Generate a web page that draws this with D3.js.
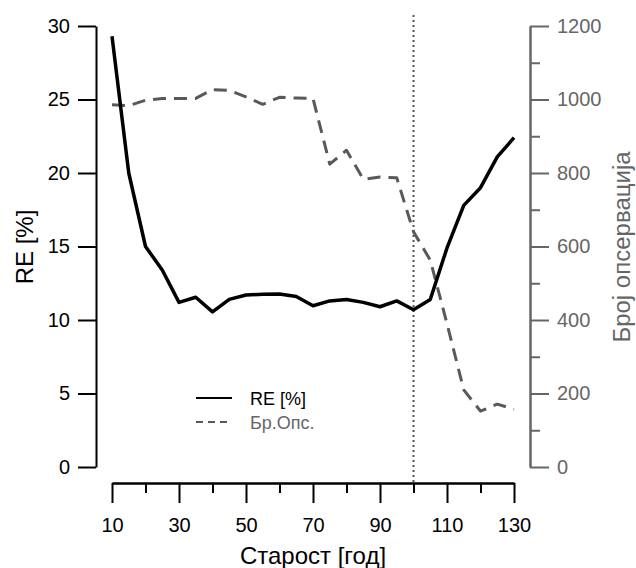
<!DOCTYPE html>
<html>
<head>
<meta charset="utf-8">
<script src="https://cdn.jsdelivr.net/npm/d3@7"></script>
<style>
  html, body { margin: 0; padding: 0; background: #fff; }
  text { font-family: "Liberation Sans", Arial, sans-serif; }
</style>
</head>
<body>
<svg id="chart" width="636" height="568"></svg>
<script>
// ---- data ----
const ages = [10, 15, 20, 25, 30, 35, 40, 45, 50, 55, 60, 65, 70, 75, 80, 85, 90, 95, 100, 105, 110, 115, 120, 125, 130];
const reValues = [29.3, 20.0, 15.0, 13.4, 11.2, 11.55, 10.55, 11.4, 11.7, 11.75, 11.77, 11.6, 10.97, 11.3, 11.4, 11.2, 10.9, 11.3, 10.7, 11.4, 14.9, 17.8, 19.0, 21.1, 22.4];
const obsValues = [986, 983, 998, 1003, 1003, 1003, 1027, 1025, 1007, 987, 1006, 1004, 1003, 824, 862, 783, 789, 787, 640, 563, 390, 210, 152, 171, 157];
const xMajorTicks = [10, 30, 50, 70, 90, 110, 130];
const xMinorTicks = [20, 40, 60, 80, 100, 120];
const reTicks = [0, 5, 10, 15, 20, 25, 30];
const obsMajorTicks = [0, 200, 400, 600, 800, 1000, 1200];
const obsMinorTicks = [100, 300, 500, 700, 900, 1100];
const cutoffAge = 100;
const labels = { x: "Старост [год]", yLeft: "RE [%]", yRight: "Број опсервација", legendRE: "RE [%]", legendObs: "Бр.Опс." };

// ---- scales ----
const svg = d3.select("#chart");
const x = d3.scaleLinear().domain([10, 130]).range([112, 514]);
const yL = d3.scaleLinear().domain([0, 30]).range([467, 26]);
const yR = d3.scaleLinear().domain([0, 1200]).range([467, 26]);

const black = "#000";
const gray = "#666";
const dashGray = "#595959";

function styleAxis(g, color, fs) {
  g.select(".domain").attr("stroke", color).attr("stroke-width", 2);
  g.selectAll(".tick line").attr("stroke", color).attr("stroke-width", 2);
  g.selectAll(".tick text").attr("fill", color).attr("font-size", fs)
    .attr("font-family", '"Liberation Sans", Arial, sans-serif');
}

// left axis
const gL = svg.append("g").attr("transform", "translate(96,0)")
  .call(d3.axisLeft(yL).tickValues(reTicks).tickSize(18).tickSizeOuter(0).tickPadding(8));
styleAxis(gL, black, 20);

// right axis
const gR = svg.append("g").attr("transform", "translate(530,0)")
  .call(d3.axisRight(yR).tickValues(obsMajorTicks).tickSize(19).tickSizeOuter(0).tickPadding(8).tickFormat(d3.format("d")));
styleAxis(gR, gray, 20);
const gR2 = svg.append("g").attr("transform", "translate(530,0)")
  .call(d3.axisRight(yR).tickValues(obsMinorTicks).tickSize(10).tickSizeOuter(0).tickFormat(""));
styleAxis(gR2, gray, 20);

// bottom axis
const gB = svg.append("g").attr("transform", "translate(0,483)")
  .call(d3.axisBottom(x).tickValues(xMajorTicks).tickSize(20).tickSizeOuter(0).tickPadding(15));
styleAxis(gB, black, 20);
const gB2 = svg.append("g").attr("transform", "translate(0,483)")
  .call(d3.axisBottom(x).tickValues(xMinorTicks).tickSize(10).tickSizeOuter(0).tickFormat(""));
styleAxis(gB2, black, 20);

// cutoff dotted line
svg.append("line")
  .attr("x1", x(cutoffAge)).attr("x2", x(cutoffAge))
  .attr("y1", 15).attr("y2", 483)
  .attr("stroke", "#555").attr("stroke-width", 2).attr("stroke-dasharray", "2,3");

// observations dashed line
const lineObs = d3.line().x((d, i) => x(ages[i])).y(d => yR(d));
svg.append("path").datum(obsValues)
  .attr("d", lineObs).attr("fill", "none")
  .attr("stroke", dashGray).attr("stroke-width", 3)
  .attr("stroke-dasharray", "13,8").attr("stroke-linejoin", "round");

// RE solid line
const lineRE = d3.line().x((d, i) => x(ages[i])).y(d => yL(d));
svg.append("path").datum(reValues)
  .attr("d", lineRE).attr("fill", "none")
  .attr("stroke", black).attr("stroke-width", 3.5).attr("stroke-linejoin", "round");

// legend
svg.append("line").attr("x1", 196).attr("x2", 232).attr("y1", 398).attr("y2", 398)
  .attr("stroke", black).attr("stroke-width", 2.2);
svg.append("text").attr("x", 250).attr("y", 405).attr("font-size", 18).attr("fill", black).text(labels.legendRE);
svg.append("line").attr("x1", 196).attr("x2", 232).attr("y1", 422).attr("y2", 422)
  .attr("stroke", dashGray).attr("stroke-width", 2).attr("stroke-dasharray", "7,5");
svg.append("text").attr("x", 250).attr("y", 429).attr("font-size", 18).attr("fill", gray).text(labels.legendObs);

// titles
svg.append("text").attr("x", 313).attr("y", 564).attr("text-anchor", "middle")
  .attr("font-size", 24).attr("fill", black).text(labels.x);
svg.append("text").attr("transform", "translate(33,247) rotate(-90)").attr("text-anchor", "middle")
  .attr("font-size", 24).attr("fill", black).text(labels.yLeft);
svg.append("text").attr("transform", "translate(630,247) rotate(-90)").attr("text-anchor", "middle")
  .attr("font-size", 24).attr("fill", gray).text(labels.yRight);
</script>
</body>
</html>
